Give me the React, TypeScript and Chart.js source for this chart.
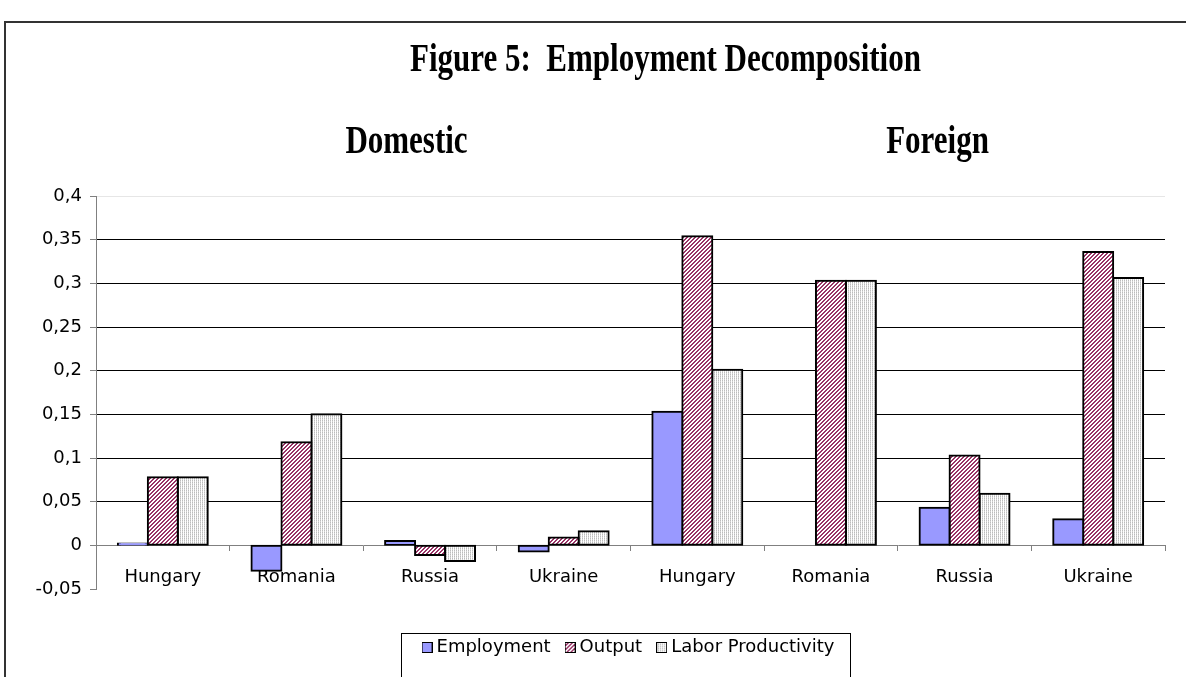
import React, { useEffect, useRef } from 'react';
import { Chart, registerables } from 'chart.js';

Chart.register(...registerables);

const categories = ['Hungary', 'Romania', 'Russia', 'Ukraine', 'Hungary', 'Romania', 'Russia', 'Ukraine'];
const employment = [0.002, -0.029, 0.005, -0.007, 0.153, 0, 0.043, 0.03];
const output = [0.078, 0.118, -0.011, 0.009, 0.354, 0.303, 0.103, 0.336];
const laborProductivity = [0.078, 0.15, -0.018, 0.016, 0.201, 0.303, 0.059, 0.306];
const seriesNames = ['Employment', 'Output', 'Labor Productivity'];
const yMin = -0.05;
const yMax = 0.4;
const yStep = 0.05;
const chartTitle = 'Figure 5:  Employment Decomposition';
const groupLabels = ['Domestic', 'Foreign'];

function hatchTile(): HTMLCanvasElement {
  const c = document.createElement('canvas');
  c.width = 4;
  c.height = 4;
  const g = c.getContext('2d');
  if (g) {
    g.fillStyle = '#ffffff';
    g.fillRect(0, 0, 4, 4);
    g.fillStyle = '#993366';
    for (let x = 0; x < 4; x++) {
      g.fillRect(x, (3 - x + 4) % 4, 1, 1);
      g.fillRect(x, (4 - x) % 4, 1, 1);
    }
  }
  return c;
}

function vertTile(): HTMLCanvasElement {
  const c = document.createElement('canvas');
  c.width = 2;
  c.height = 2;
  const g = c.getContext('2d');
  if (g) {
    g.fillStyle = '#ffffff';
    g.fillRect(0, 0, 2, 2);
    g.fillStyle = '#bdbdbd';
    g.fillRect(0, 0, 1, 1);
    g.fillStyle = '#d6d6d6';
    g.fillRect(0, 1, 1, 1);
  }
  return c;
}

function swatch(kind: number): HTMLCanvasElement {
  const c = document.createElement('canvas');
  c.width = 11;
  c.height = 11;
  const g = c.getContext('2d');
  if (g) {
    let fs: any = '#9999FF';
    if (kind === 1) fs = g.createPattern(hatchTile(), 'repeat') || '#cc6699';
    if (kind === 2) fs = g.createPattern(vertTile(), 'repeat') || '#e4e4e4';
    g.fillStyle = fs;
    g.fillRect(0, 0, 11, 11);
    g.strokeStyle = '#000';
    g.lineWidth = 1;
    g.strokeRect(0.5, 0.5, 10, 10);
  }
  return c;
}

function drawCondensed(ctx: CanvasRenderingContext2D, text: string, cx: number, baseline: number, scaleX: number) {
  ctx.save();
  ctx.font = "bold 40px 'Liberation Serif', 'Times New Roman', serif";
  ctx.fillStyle = '#000';
  ctx.textAlign = 'center';
  ctx.textBaseline = 'alphabetic';
  ctx.translate(cx, baseline);
  ctx.scale(scaleX, 1);
  ctx.fillText(text, 0, 0);
  ctx.restore();
}

const decorPlugin = {
  id: 'decor',
  beforeDraw(chart: any) {
    const ctx: CanvasRenderingContext2D = chart.ctx;
    ctx.save();
    ctx.fillStyle = '#ffffff';
    ctx.fillRect(0, 0, chart.width, chart.height);
    ctx.strokeStyle = '#333';
    ctx.lineWidth = 2;
    ctx.beginPath();
    ctx.moveTo(5, chart.height + 5);
    ctx.lineTo(5, 22);
    ctx.lineTo(chart.width + 5, 22);
    ctx.stroke();
    ctx.restore();
  },
  afterDraw(chart: any) {
    const ctx: CanvasRenderingContext2D = chart.ctx;
    drawCondensed(ctx, chartTitle, 665.5, 71, 0.775);
    drawCondensed(ctx, groupLabels[0], 406.5, 153, 0.775);
    drawCondensed(ctx, groupLabels[1], 937.5, 153, 0.775);
    const hb = chart.legend && chart.legend.legendHitBoxes;
    if (hb && hb.length) {
      const first = hb[0];
      const last = hb[hb.length - 1];
      const left = Math.round(first.left - 26) + 0.5;
      const right = Math.round(last.left + last.width + 16) + 0.5;
      const top = Math.round(first.top - 5.5) + 0.5;
      ctx.save();
      ctx.strokeStyle = '#000';
      ctx.lineWidth = 1;
      ctx.strokeRect(left, top, right - left, 100);
      ctx.restore();
    }
  },
};

export default function App() {
  const ref = useRef<HTMLCanvasElement | null>(null);

  useEffect(() => {
    const canvas = ref.current;
    if (!canvas) return;
    Chart.defaults.font.family = "'DejaVu Sans', sans-serif";
    const tmp = document.createElement('canvas').getContext('2d');
    const hatch: any = (tmp && tmp.createPattern(hatchTile(), 'repeat')) || '#cc6699';
    const vert: any = (tmp && tmp.createPattern(vertTile(), 'repeat')) || '#e4e4e4';
    const swatches = [swatch(0), swatch(1), swatch(2)];
    const near = (a: number, b: number) => Math.abs(a - b) < 1e-9;
    const barStyle = { borderColor: '#000', borderWidth: 2, borderSkipped: false, inflateAmount: 1 };
    const chart = new Chart(canvas, {
      type: 'bar',
      data: {
        labels: categories,
        datasets: [
          { label: seriesNames[0], data: employment, backgroundColor: '#9999FF', ...barStyle },
          { label: seriesNames[1], data: output, backgroundColor: hatch, ...barStyle },
          { label: seriesNames[2], data: laborProductivity, backgroundColor: vert, ...barStyle },
        ],
      },
      options: {
        animation: false,
        responsive: false,
        devicePixelRatio: 1,
        datasets: { bar: { categoryPercentage: 0.673, barPercentage: 1 } },
        layout: { padding: { left: 0, right: 21, top: 196, bottom: 10.5 } },
        events: [],
        scales: {
          x: {
            position: { y: 0 } as any,
            offset: true,
            grid: { offset: true, drawOnChartArea: false, drawTicks: true, tickLength: 5, tickColor: '#808080' },
            border: { color: '#808080', width: 1 },
            ticks: { color: '#000', font: { size: 18 }, padding: 16, maxRotation: 0, autoSkip: false },
          },
          y: {
            min: yMin,
            max: yMax,
            ticks: {
              stepSize: yStep,
              color: '#000',
              font: { size: 18 },
              padding: 8,
              callback: (v: any) => String(Number(Number(v).toFixed(2))).replace('.', ','),
            },
            grid: {
              color: (c: any) => {
                const v = c.tick ? c.tick.value : 1;
                if (near(v, yMin) || near(v, 0)) return 'rgba(0,0,0,0)';
                if (near(v, yMax)) return '#e6e6e6';
                return '#000';
              },
              lineWidth: 1,
              drawTicks: true,
              tickLength: 6,
              tickColor: '#808080',
            },
            border: { color: '#808080', width: 1 },
            afterFit: (s: any) => {
              s.width = 96;
            },
          },
        },
        plugins: {
          tooltip: { enabled: false },
          title: { display: false },
          legend: {
            position: 'bottom',
            fullSize: false,
            title: { display: true, text: '', padding: { top: 8, bottom: 8.1 } },
            labels: {
              usePointStyle: true,
              boxWidth: 1,
              boxHeight: 10,
              padding: 19,
              color: '#000',
              font: { size: 18 },
              generateLabels: (ch: any) =>
                (Chart.defaults.plugins.legend.labels.generateLabels as any)(ch).map((l: any, i: number) => ({
                  ...l,
                  pointStyle: swatches[i],
                  lineWidth: 1,
                  strokeStyle: '#000',
                })),
            },
          },
        },
      },
      plugins: [decorPlugin],
    } as any);
    return () => chart.destroy();
  }, []);

  return (
    <div style={{ position: 'fixed', left: 0, top: 0, width: 1186, height: 677, overflow: 'hidden', background: '#fff' }}>
      <canvas ref={ref} width={1186} height={677} style={{ width: 1186, height: 677, display: 'block' }} />
    </div>
  );
}
